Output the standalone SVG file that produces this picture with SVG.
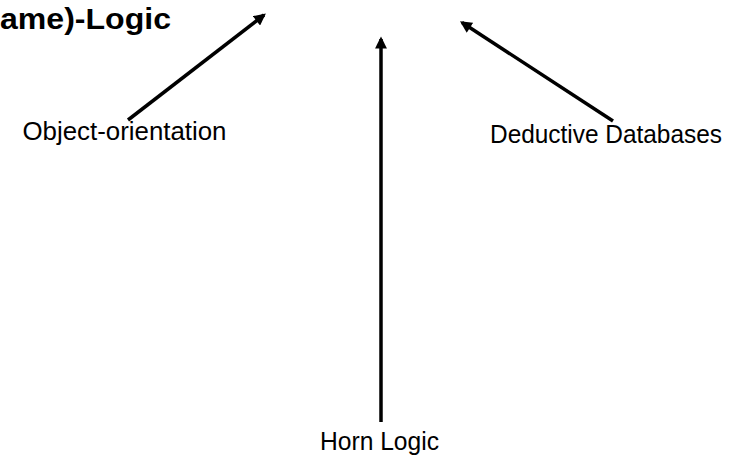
<svg xmlns="http://www.w3.org/2000/svg" width="753" height="459" viewBox="0 0 753 459">
<defs>
<style>
.lbl{font-family:"Liberation Sans",Arial,sans-serif;font-size:25px;fill:#000}
.ttl{font-family:"Liberation Sans",Arial,sans-serif;font-size:30px;font-weight:bold;fill:#000}
.conn{stroke:#000;stroke-width:3.5;fill:none}
</style>
<marker id="ah" viewBox="0 0 10 10" refX="8" refY="5" markerWidth="3.6" markerHeight="3.4" orient="auto" markerUnits="strokeWidth">
<path d="M0,0 L10,5 L0,10 Z" fill="#000"/>
</marker>
</defs>
<rect width="753" height="459" fill="#fff"/>
<g id="n-flogic"><text class="ttl" x="0" y="29" textLength="171" lengthAdjust="spacingAndGlyphs">ame)-Logic</text></g>
<g id="n-oo"><text class="lbl" x="22.5" y="140" textLength="204" lengthAdjust="spacingAndGlyphs">Object-orientation</text></g>
<g id="n-dd"><text class="lbl" x="490" y="143" textLength="232" lengthAdjust="spacingAndGlyphs">Deductive Databases</text></g>
<g id="n-horn"><text class="lbl" x="320" y="450" textLength="119" lengthAdjust="spacingAndGlyphs">Horn Logic</text></g>
<g id="connectors">
<line class="conn" x1="128" y1="120" x2="264" y2="15" marker-end="url(#ah)"/>
<line class="conn" x1="381" y1="422" x2="381" y2="39" marker-end="url(#ah)"/>
<line class="conn" x1="613" y1="121" x2="462" y2="22.5" marker-end="url(#ah)"/>
</g>
</svg>
